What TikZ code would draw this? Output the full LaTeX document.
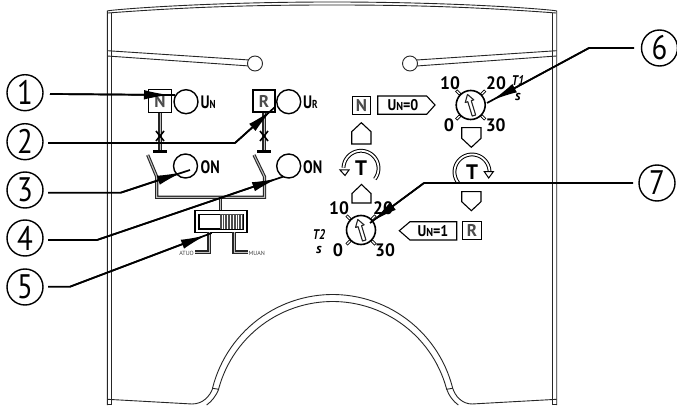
\documentclass[tikz,border=0pt]{standalone}
\usepackage{fontspec}
\setmainfont{PT Sans}
\usetikzlibrary{arrows.meta,calc}
\tikzset{
 thinl/.style={draw=black!85,line width=0.6pt,line join=round},
 panel/.style={draw=black!85,line width=0.9pt},
 led/.style={circle,draw=black,line width=1.4pt,minimum size=24pt,inner sep=0pt,fill=white},
 callout/.style={circle,draw=black,line width=1.4pt,minimum size=36pt,inner sep=0pt,font=\fontsize{34}{34}\selectfont},
 leader/.style={draw=black,line width=1.7pt,line join=miter},
 wedge/.style={draw=black,line width=1.7pt,-{Latex[length=26pt,width=9.5pt]}},
 lab/.style={inner sep=0pt,font=\fontsize{18}{18}\selectfont\bfseries},
 boxlab/.style={inner sep=0pt,font=\fontsize{15.5}{15.5}\selectfont\bfseries},
 dialnum/.style={inner sep=0pt,font=\fontsize{18}{18}\selectfont\bfseries},
 tlab/.style={inner sep=0pt,font=\fontsize{14}{14}\selectfont\bfseries\itshape},
 tiny/.style={inner sep=0pt,font=\fontsize{6}{6}\selectfont,text=black!75},
 keybox/.style={draw=black,line width=1pt,minimum width=18.5pt,minimum height=18.5pt,inner sep=0pt,font=\fontsize{17}{17}\selectfont\bfseries,text=black!70},
 dbl/.style={draw=black!85,line width=3.2pt,line cap=butt,line join=miter,postaction={draw=black!25,line width=1pt}},
 dbw/.style={draw=black,double=white,double distance=1.8pt,line width=1pt},
 shapeline/.style={draw=black,line width=1.1pt,fill=white,line join=miter},
 ttimer/.style={inner sep=0pt,font=\fontsize{21}{21}\selectfont\bfseries},
}
\newcommand{\smallsub}[1]{{\fontsize{11.5}{12}\selectfont #1}}
\newcommand{\nar}[1]{\scalebox{0.8}[1]{#1}}
\newcommand{\dnar}[1]{\scalebox{0.97}[1]{#1}}
\newcommand{\dialat}[3]{%
 \begin{scope}[shift={(#1,#2)}]
  \foreach \sx/\sy in {1/1,1/-1,-1/1,-1/-1}{
   \draw[draw=black,line width=3pt] (\sx*10.5,\sy*10.5) -- (\sx*14.5,\sy*14.5);
   \draw[draw=white,line width=1.2pt] (\sx*11,\sy*11) -- (\sx*14,\sy*14);
  }
  \node[circle,draw=black,line width=1.6pt,minimum size=29pt,inner sep=0pt,fill=white] (#3) at (0,0) {};
  \begin{scope}[rotate=17]
   \draw[thinl,line width=1.1pt] (0,-11) -- (-4.5,-4) -- (-1.8,-4) -- (-1.8,11) -- (1.8,11) -- (1.8,-4) -- (4.5,-4) -- cycle;
  \end{scope}
 \end{scope}}
\newcommand{\uppent}[4]{\draw[shapeline] (#1,#4) -- (#1,#3) -- ({(#1+#2)/2},{#3-9}) -- (#2,#3) -- (#2,#4) -- cycle;}
\newcommand{\downpent}[4]{\draw[shapeline] (#1,#3) -- (#1,#4) -- ({(#1+#2)/2},{#4+9}) -- (#2,#4) -- (#2,#3) -- cycle;}
\begin{document}
\begin{tikzpicture}[x=1pt,y=-1pt]
\useasboundingbox (0,0) rectangle (677,406);
\fill[white] (0,0) rectangle (677,406);
% panel outline
\draw[panel] (107.3,405) -- (107.3,11) .. controls (108,10) and (200,2) .. (332,2) .. controls (464,2) and (556,10) .. (556.7,11) -- (556.7,405);
\draw[panel] (111.3,405) -- (111.3,13);
\draw[panel] (552.7,405) -- (552.7,13);
\draw[panel] (108,13) .. controls (200,6) and (270,5) .. (332,5) .. controls (394,5) and (464,6) .. (556,13);
% slots
\draw[panel] (107.3,50.7) -- (249.5,60);
\draw[panel] (107.3,56) -- (249.5,66);
\draw[panel] (416.5,60) -- (556.7,50.7);
\draw[panel] (416.5,66) -- (556.7,56);
\node[circle,draw=black!85,line width=0.9pt,minimum size=15pt,inner sep=0pt,fill=white] (holeL) at (255,63.5) {};
\node[circle,draw=black!85,line width=0.9pt,minimum size=15pt,inner sep=0pt,fill=white] (holeR) at (410,63.5) {};
% bottom
\draw[panel] (107.3,399.3) -- (192,404) .. controls (203,404) and (210,396) .. (212.7,388.3)
 plot[domain=165.8:14.2,samples=60] ({332.6+123.8*cos(\x)},{418.3-123.8*sin(\x)})
 .. controls (455,396) and (462,404) .. (472,404) -- (556.7,399.3);
\draw[panel] (206.7,405) .. controls (212,401) and (216,396) .. (218.7,389.3)
 plot[domain=165:15,samples=60] ({332.6+118*cos(\x)},{419.5-118*sin(\x)})
 .. controls (449,396) and (453,401) .. (458.3,405);
\draw[panel] (212.7,388.3) -- (218.7,389.3);
\draw[panel] (452.7,388.3) -- (446.4,389.3);
\draw[panel] (107.3,404) -- (111.3,404) (552.7,404) -- (556.7,404);
% left schematic
\draw[dbl] (160,113) -- (160,151);
\draw[dbl] (264,112) -- (264,151);
\draw[draw=black,line width=2.4pt] (153,151.5) -- (167,151.5);
\draw[draw=black,line width=2.4pt] (257,151.5) -- (271,151.5);
\draw[draw=black,line width=1.6pt] (156,131) -- (164,141) (164,131) -- (156,141);
\draw[draw=black,line width=1.6pt] (260,131) -- (268,141) (268,131) -- (260,141);
\draw[dbl] (147.7,155) -- (156.7,176.7) -- (156.7,197.3) -- (264.5,197.3) -- (264.5,176.7) -- (254,155);
\draw[dbl] (220.7,197.3) -- (220.7,211);
\node[keybox,minimum width=23pt,minimum height=23pt,fill=white] (boxN) at (160,101.5) {N};
\node[keybox,minimum width=22pt,minimum height=22pt,fill=white,line width=1.2pt] (boxR) at (264,101) {R};
\node[led] (ledN) at (186,101.7) {};
\node[led] (ledR) at (288.7,101.7) {};
\node[led] (ledA) at (185.5,166) {};
\node[led] (ledB) at (288.7,166) {};
\node[lab,anchor=west] (tUN) at (200.5,102.5) {\nar{U\smallsub{N}}};
\node[lab,anchor=west] (tUR) at (303,102.5) {\nar{U\smallsub{R}}};
\node[lab,anchor=west] (tON1) at (200.5,167) {\nar{ON}};
\node[lab,anchor=west] (tON2) at (303,167) {\nar{ON}};
% slider
\draw[draw=black,line width=1.6pt,fill=white] (195,210.7) rectangle (247,232.3);
\draw[draw=black,line width=1.3pt,fill=white] (199,214.5) rectangle (243,229);
\fill[black!70] (220,214.5) rectangle (243,229);
\foreach \k in {0,...,7}{\draw[draw=white,line width=0.8pt] ({222+\k*2.8},215) -- ({222+\k*2.8},228.5);}
\draw[dbl] (209,232.3) -- (209,252) -- (195,252);
\draw[dbl] (234,232.3) -- (234,252) -- (248,252);
\node[tiny,anchor=east] (tATUO) at (194,253) {ATUO};
\node[tiny,anchor=west] (tMUAN) at (248.5,253) {MUAN};
% right schematic
\node[keybox] (keyN) at (361.5,105.5) {N};
\node[keybox] (keyR) at (472,230.5) {R};
\draw[shapeline] (377.7,96) -- (426.7,96) -- (435,105) -- (426.7,114.3) -- (377.7,114.3) -- cycle;
\node[boxlab] (tU0) at (403,105.5) {\scalebox{0.9}[1]{U\smallsub{N}=0}};
\draw[shapeline] (399.3,230.7) -- (410,221.7) -- (456.7,221.7) -- (456.7,240) -- (410,240) -- cycle;
\node[boxlab] (tU1) at (433,231) {\scalebox{0.9}[1]{U\smallsub{N}=1}};
\uppent{351.7}{371}{131.7}{144}
\uppent{352}{371}{193.5}{203}
\downpent{461.7}{481}{127.7}{138.3}
\downpent{461.7}{481}{191.7}{201.7}
\dialat{470.7}{105}{dialA}
\dialat{361}{230}{dialB}
\node[dialnum] (a10) at (450,83) {\dnar{10}};
\node[dialnum] (a20) at (496,83) {\dnar{20}};
\node[dialnum] (a0) at (449,125) {0};
\node[dialnum] (a30) at (495.7,125) {\dnar{30}};
\node[tlab] (tT1) at (518,80.5) {\nar{T1}};
\node[tlab] (tS1) at (518,97) {s};
\node[dialnum] (b10) at (339,208) {\dnar{10}};
\node[dialnum] (b20) at (383,208) {\dnar{20}};
\node[dialnum] (b0) at (338,250) {0};
\node[dialnum] (b30) at (385,250) {\dnar{30}};
\node[tlab] (tT2) at (319,235) {\nar{T2}};
\node[tlab] (tS2) at (319,250) {s};
% timers
\draw[dbw] plot[domain=-38:178,samples=50] ({361+17.5*cos(\x)},{168.3-17.5*sin(\x)});
\draw[shapeline,line width=1pt] (340,170) -- (349,170) -- (345,175.5) -- cycle;
\draw[dbw] plot[domain=218:2,samples=50] ({472+17.5*cos(\x)},{172-17.5*sin(\x)});
\draw[shapeline,line width=1pt] (484.3,171.7) -- (493.3,171.7) -- (488.7,178) -- cycle;
\node[ttimer] (tTa) at (361,168.5) {T};
\node[ttimer] (tTb) at (472,172) {T};
% callouts
\node[callout] (c1) at (25,92.7) {\scalebox{0.85}[1]{1}};
\node[callout] (c2) at (25,141.7) {\scalebox{0.85}[1]{2}};
\node[callout] (c3) at (25,190) {\scalebox{0.85}[1]{3}};
\node[callout] (c4) at (25,238) {\scalebox{0.85}[1]{4}};
\node[callout] (c5) at (25,287) {\scalebox{0.85}[1]{5}};
\node[callout] (c6) at (659.5,48) {\scalebox{0.85}[1]{6}};
\node[callout] (c7) at (657,183) {\scalebox{0.85}[1]{7}};
% leader geometry
\coordinate (s1) at (50,94);
\coordinate (e1) at (175,95);
\coordinate (h1) at (170,95);
\coordinate (s2) at (48,143);
\coordinate (k2) at (235,143);
\coordinate (e2) at (275,107);
\coordinate (h2) at (271.7,110);
\coordinate (s3) at (48,192.7);
\coordinate (k3) at (120.7,192.7);
\coordinate (e3) at (190,170);
\coordinate (h3) at (183,172);
\coordinate (s4) at (48,240);
\coordinate (k4) at (97,240);
\coordinate (e4) at (283,176.7);
\coordinate (h4) at (278,178.3);
\coordinate (s5) at (48,286.7);
\coordinate (k5) at (70,286.7);
\coordinate (e5) at (211.7,233);
\coordinate (h5) at (206.7,235);
\coordinate (s6) at (634,48);
\coordinate (k6) at (589,48);
\coordinate (e6) at (487,103);
\coordinate (h6) at (491.7,100.5);
\coordinate (s7) at (633,183);
\coordinate (k7) at (424,183);
\coordinate (e7) at (370,223);
\coordinate (h7) at (372,221.5);
\draw[leader] (s1) -- (e1);
\draw[wedge] (s1) -- (h1);
\foreach \i in {2,...,7}{
 \draw[leader] (s\i) -- (k\i) -- (e\i);
 \draw[wedge] (k\i) -- (h\i);
}
\end{tikzpicture}
\end{document}
